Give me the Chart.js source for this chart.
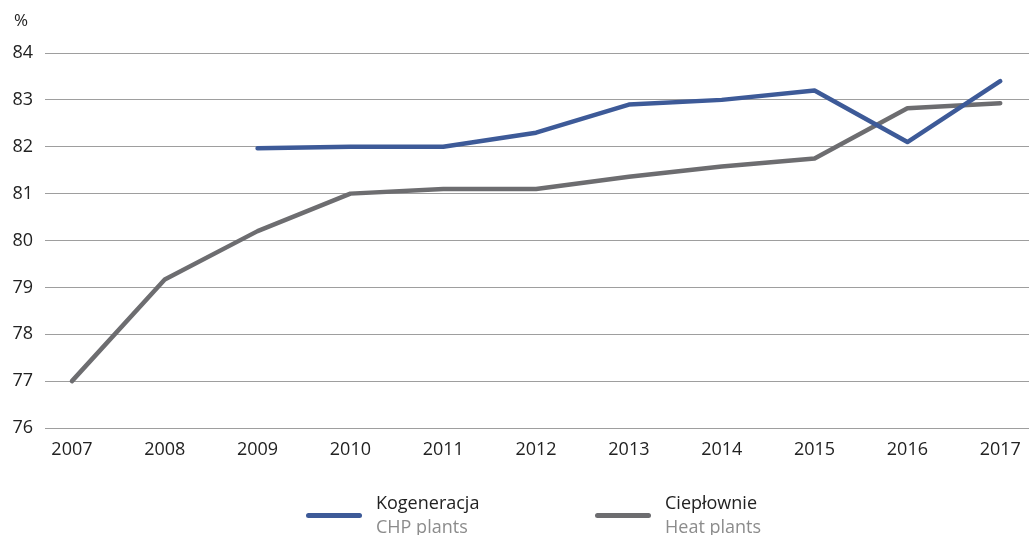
<!DOCTYPE html>
<html>
<head>
<meta charset="utf-8">
<script src="https://cdn.jsdelivr.net/npm/chart.js@4"></script>
<style>
  body { margin: 0; background: #fff; font-family: "Open Sans", sans-serif; }
  #wrap { position: relative; width: 1029px; height: 535px; overflow: hidden; }
  .unit { position: absolute; left: 14px; top: 8px; font-size: 17px; color: #222; }
  .leg { position: absolute; top: 490px; font-size: 18px; line-height: 24px; color: #222; }
  .leg .sw { position: absolute; left: -70px; top: 23px; width: 56px; height: 5px; border-radius: 3px; }
  .leg .en { color: #8c8c8c; }
</style>
</head>
<body>
<div id="wrap">
  <canvas id="myChart" width="1029" height="535"></canvas>
  <div class="unit">%</div>
  <div class="leg" style="left:376px"><span class="sw" style="background:#3d5a98"></span>Kogeneracja<br><span class="en">CHP plants</span></div>
  <div class="leg" style="left:665px"><span class="sw" style="background:#6d6d70"></span>Ciepłownie<br><span class="en">Heat plants</span></div>
</div>
<script>
'use strict';

// dane
var years = [2007, 2008, 2009, 2010, 2011, 2012, 2013, 2014, 2015, 2016, 2017];
var chpValues = [null, null, 81.97, 82.0, 82.0, 82.3, 82.9, 83.0, 83.2, 82.1, 83.4];
var heatValues = [77.0, 79.17, 80.2, 81.0, 81.1, 81.1, 81.36, 81.58, 81.75, 82.82, 82.93];
var yTicks = [76, 77, 78, 79, 80, 81, 82, 83, 84];

function toPoints(vals) {
  return years.map(function (y, i) { return { x: y, y: vals[i] }; });
}

Chart.defaults.font.family = '"Open Sans", sans-serif';

new Chart("myChart", {
  type: "line",
  data: {
    datasets: [{
      label: "Kogeneracja",
      data: toPoints(chpValues),
      borderColor: "#3d5a98",
      borderWidth: 4.5,
      pointRadius: 0,
      tension: 0,
      borderCapStyle: "round",
      borderJoinStyle: "round"
    }, {
      label: "Ciepłownie",
      data: toPoints(heatValues),
      borderColor: "#6d6d70",
      borderWidth: 4.5,
      pointRadius: 0,
      tension: 0,
      borderCapStyle: "round",
      borderJoinStyle: "round"
    }]
  },
  options: {
    responsive: false,
    animation: false,
    layout: { padding: { top: 53, right: 0, bottom: 72, left: 0 } },
    plugins: { legend: { display: false }, tooltip: { enabled: false } },
    scales: {
      x: {
        type: "linear",
        min: 2006.71,
        max: 2017.31,
        afterBuildTicks: function (scale) {
          scale.ticks = years.map(function (v) { return { value: v }; });
        },
        afterFit: function (scale) { scale.height = 35; },
        grid: { display: false },
        border: { display: false },
        ticks: { color: "#222", font: { size: 18 }, padding: 3, maxRotation: 0,
          callback: function (v) { return String(v); } }
      },
      y: {
        min: 76,
        max: 84,
        afterBuildTicks: function (scale) {
          scale.ticks = yTicks.map(function (v) { return { value: v }; });
        },
        afterFit: function (scale) { scale.width = 45; },
        grid: { color: "#9e9e9e", lineWidth: 1, drawTicks: false },
        border: { display: false },
        ticks: { color: "#222", font: { size: 18 }, padding: 12 }
      }
    }
  }
});
</script>
</body>
</html>
